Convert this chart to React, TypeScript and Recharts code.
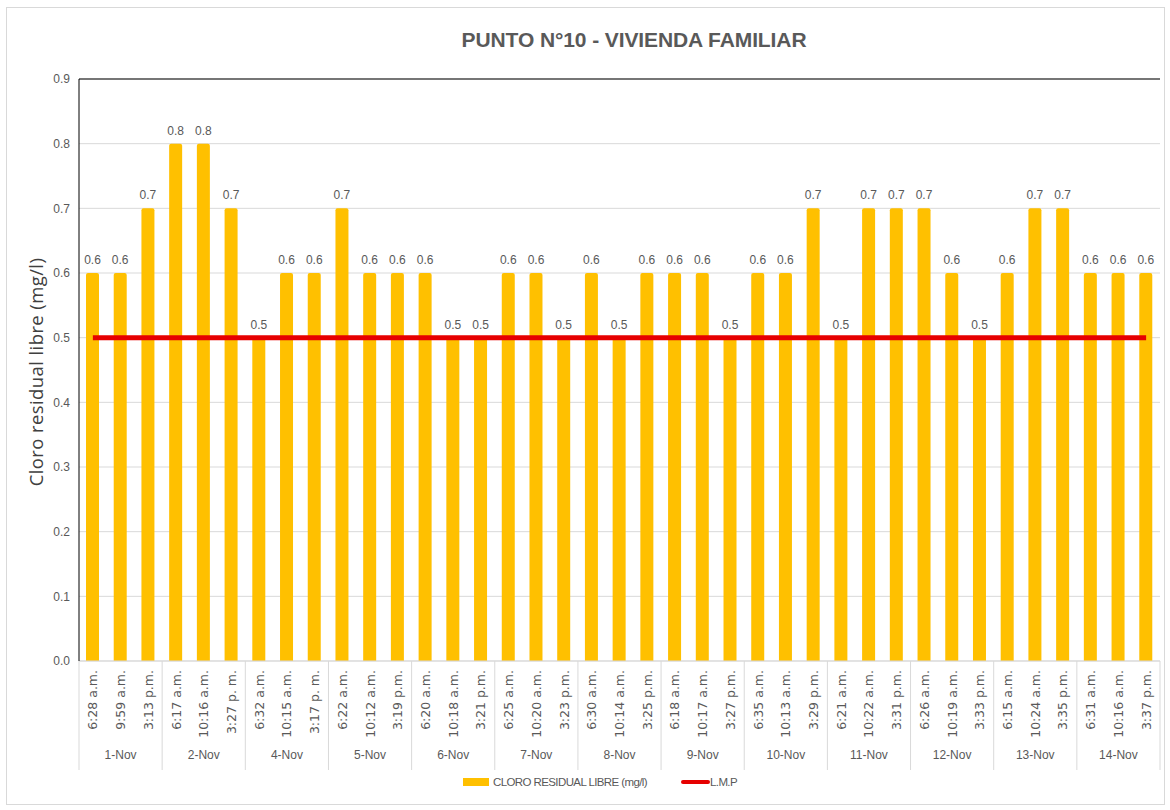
import React from 'react';
import {
  ComposedChart, Bar, Line, XAxis, YAxis, CartesianGrid, LabelList, ReferenceLine,
} from 'recharts';

const days = ['1-Nov', '2-Nov', '4-Nov', '5-Nov', '6-Nov', '7-Nov', '8-Nov', '9-Nov', '10-Nov', '11-Nov', '12-Nov', '13-Nov', '14-Nov'];

const times = [
  '6:28 a.m.', '9:59 a.m.', '3:13 p.m.',
  '6:17 a.m.', '10:16 a.m.', '3:27 p. m.',
  '6:32 a.m.', '10:15 a.m.', '3:17 p. m.',
  '6:22 a.m.', '10:12 a.m.', '3:19 p.m.',
  '6:20 a.m.', '10:18 a.m.', '3:21 p.m.',
  '6:25 a.m.', '10:20 a.m.', '3:23 p.m.',
  '6:30 a.m.', '10:14 a.m.', '3:25 p.m.',
  '6:18 a.m.', '10:17 a.m.', '3:27 p.m.',
  '6:35 a.m.', '10:13 a.m.', '3:29 p.m.',
  '6:21 a.m.', '10:22 a.m.', '3:31 p.m.',
  '6:26 a.m.', '10:19 a.m.', '3:33 p.m.',
  '6:15 a.m.', '10:24 a.m.', '3:35 p.m.',
  '6:31 a.m.', '10:16 a.m.', '3:37 p.m.',
];

const cloro = [
  0.6, 0.6, 0.7,
  0.8, 0.8, 0.7,
  0.5, 0.6, 0.6,
  0.7, 0.6, 0.6,
  0.6, 0.5, 0.5,
  0.6, 0.6, 0.5,
  0.6, 0.5, 0.6,
  0.6, 0.6, 0.5,
  0.6, 0.6, 0.7,
  0.5, 0.7, 0.7,
  0.7, 0.6, 0.5,
  0.6, 0.7, 0.7,
  0.6, 0.6, 0.6,
];

const lmp = 0.5;
const yTicks = [0, 0.1, 0.2, 0.3, 0.4, 0.5, 0.6, 0.7, 0.8, 0.9];

const data = times.map((t, i) => ({
  id: i,
  time: t,
  day: days[Math.floor(i / 3)],
  cloro: cloro[i],
  lmp,
}));

const PLOT_LEFT = 79;
const PLOT_RIGHT = 1160;
const SLOT = (PLOT_RIGHT - PLOT_LEFT) / data.length;
const GRAY = '#595959';
const SEP = '#d9d9d9';
const NARROW = "'Liberation Sans Narrow', 'Liberation Sans', sans-serif";

function TimeTick(props: any) {
  const { x, y, payload } = props;
  const i = payload.value as number;
  const row = data[i];
  return (
    <g>
      <text
        transform={`translate(${x},${y + 9}) rotate(-90)`}
        textAnchor="end"
        dy={4.5}
        fontSize={12.5}
        fill={GRAY}
        fontFamily="'DejaVu Sans', sans-serif"
      >
        {row.time}
      </text>
      {i % 3 === 0 && (
        <line x1={x - SLOT / 2} x2={x - SLOT / 2} y1={y} y2={y + 109} stroke={SEP} />
      )}
      {i === data.length - 1 && (
        <line x1={x + SLOT / 2} x2={x + SLOT / 2} y1={y} y2={y + 109} stroke={SEP} />
      )}
      {i % 3 === 1 && (
        <text x={x} y={y + 98} textAnchor="middle" fontSize={12} fill={GRAY} fontFamily={NARROW}>
          {row.day}
        </text>
      )}
    </g>
  );
}

export default function App() {
  return (
    <div style={{ position: 'absolute', left: 0, top: 0, width: 1170, height: 810, background: '#fff' }}>
      <div style={{ position: 'absolute', left: 6, top: 7, width: 1159, height: 798, border: '1px solid #d9d9d9', boxSizing: 'border-box' }} />
      <div
        style={{
          position: 'absolute', left: 0, width: 1268, top: 28, textAlign: 'center',
          fontFamily: NARROW, fontWeight: 700, fontSize: 21, color: GRAY, letterSpacing: -0.1,
        }}
      >
        PUNTO N°10 - VIVIENDA FAMILIAR
      </div>
      <div
        style={{
          position: 'absolute', left: 36 - 200, top: 372 - 12, width: 400, height: 24, lineHeight: '24px',
          textAlign: 'center', transform: 'rotate(-90deg)', whiteSpace: 'nowrap',
          fontFamily: "'Open Sans', 'DejaVu Sans', sans-serif", fontSize: 18.5, letterSpacing: 0.4, color: '#404040',
        }}
      >
        Cloro residual libre (mg/l)
      </div>
      <ComposedChart
        width={1170}
        height={810}
        data={data}
        margin={{ top: 79, right: 10, left: 19, bottom: 34 }}
        style={{ position: 'absolute', left: 0, top: 0 }}
      >
        <CartesianGrid vertical={false} stroke={SEP} yAxisId="left" />
        <XAxis
          dataKey="id"
          interval={0}
          height={115}
          tickLine={false}
          tickSize={0}
          tickMargin={0}
          axisLine={{ stroke: SEP }}
          tick={<TimeTick />}
        />
        <YAxis
          yAxisId="left"
          domain={[0, 0.9]}
          ticks={yTicks}
          width={60}
          tickLine={false}
          tickSize={0}
          tickMargin={9}
          axisLine={{ stroke: '#000' }}
          tick={{ fontSize: 12, fill: GRAY, fontFamily: NARROW }}
          tickFormatter={(v: number) => v.toFixed(1)}
        />
        <YAxis
          yAxisId="right"
          orientation="right"
          domain={[0, 0.9]}
          width={0}
          tick={false}
          tickLine={false}
          axisLine={{ stroke: '#000' }}
        />
        <ReferenceLine yAxisId="left" y={0.9} stroke="#000" />
        <Bar yAxisId="left" dataKey="cloro" fill="#FFC000" barSize={13} radius={[2, 2, 0, 0]} isAnimationActive={false}>
          <LabelList
            dataKey="cloro"
            position="top"
            offset={9}
            fontSize={12}
            fill={GRAY}
            fontFamily={NARROW}
            formatter={(v: any) => Number(v).toFixed(1)}
          />
        </Bar>
        <Line
          yAxisId="left"
          dataKey="lmp"
          stroke="#E60000"
          strokeWidth={5}
          dot={false}
          activeDot={false}
          isAnimationActive={false}
        />
      </ComposedChart>
      <div
        style={{
          position: 'absolute', top: 776, left: 463, display: 'flex', alignItems: 'center',
          fontFamily: NARROW, fontSize: 11.5, letterSpacing: -0.6, color: GRAY,
        }}
      >
        <span style={{ display: 'inline-block', width: 26, height: 8, background: '#FFC000', marginRight: 4 }} />
        <span>CLORO RESIDUAL LIBRE (mg/l)</span>
        <span style={{ display: 'inline-block', width: 29, height: 4, borderRadius: 2, background: '#E60000', marginLeft: 34 }} />
        <span>L.M.P</span>
      </div>
    </div>
  );
}
